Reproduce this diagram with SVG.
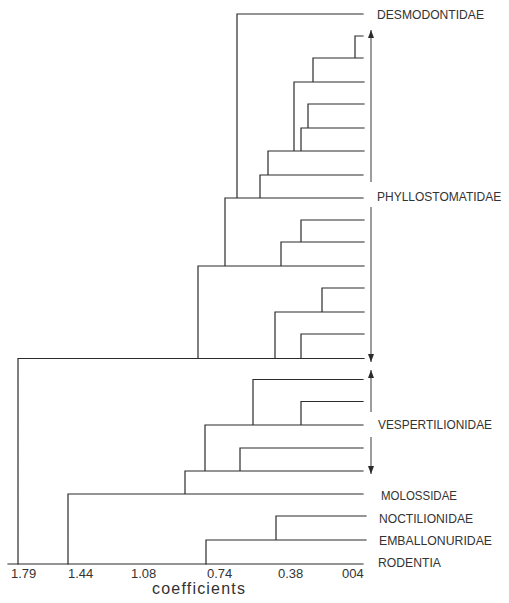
<svg xmlns="http://www.w3.org/2000/svg" width="509" height="603" viewBox="0 0 509 603">
<style>
.ln{fill:none;stroke:#2b2b2b;stroke-width:1.2;stroke-linecap:square}
.ar{fill:none;stroke:#3a3a3a;stroke-width:1}
.lbl{font-family:"Liberation Sans",Arial,sans-serif;font-size:13px;fill:#333}
.ax{font-family:"Liberation Sans",Arial,sans-serif;font-size:13px;fill:#333}
.ttl{font-family:"Liberation Sans",Arial,sans-serif;font-size:16px;fill:#333;letter-spacing:1.2px}
</style>
<defs>
<marker id="ah" viewBox="0 0 8 6" refX="8" refY="3" markerWidth="8" markerHeight="6" markerUnits="userSpaceOnUse" orient="auto">
<path d="M0,0 L8,3 L0,6 Z" fill="#2b2b2b"/>
</marker>
</defs>
<rect width="509" height="603" fill="#ffffff"/>
<g id="connectors">
<path class="ln" d="M237,14H363M237,14V198
M355,36H363M355,36V58
M313,58H363M313,58V82
M294,82H364M294,82V151
M308,104H364M308,104V128
M301,128H364M301,128V151
M268,151H364M268,151V175
M260,175H363M260,175V198
M225,198H363M225,198V266
M301,220H364M301,220V242
M281,242H364M281,242V266
M198,266H364M198,266V358.5
M322,288H364M322,288V312
M275,312H364M275,312V358.5
M301,334H364M301,334V358.5
M18,358.5H364M18,358.5V564
M253,379.5H363M253,379.5V425
M301,401.5H363M301,401.5V425
M205,425H363M205,425V471
M240,448H363M240,448V471
M185,471H363M185,471V494
M68,494H363M68,494V564
M276,516H366M276,516V540
M206,540H366M206,540V564"/>
</g>
<g id="axis">
<path class="ln" d="M8,564H363"/>
<text class="ax" x="11" y="578">1.79</text>
<text class="ax" x="68" y="578">1.44</text>
<text class="ax" x="131" y="578">1.08</text>
<text class="ax" x="207" y="578">0.74</text>
<text class="ax" x="278" y="578">0.38</text>
<text class="ax" x="342" y="578">004</text>
<text class="ttl" x="152" y="594">coefficients</text>
</g>
<g id="arrows">
<path class="ar" d="M371,182V30" marker-end="url(#ah)"/>
<path class="ar" d="M371,207V362" marker-end="url(#ah)"/>
<path class="ar" d="M371,412V370" marker-end="url(#ah)"/>
<path class="ar" d="M371,437V474" marker-end="url(#ah)"/>
</g>
<g id="desmodontidae"><text class="lbl" x="377" y="19" textLength="107" lengthAdjust="spacingAndGlyphs">DESMODONTIDAE</text></g>
<g id="phyllostomatidae"><text class="lbl" x="377" y="201" style="font-size:12px">PHYLLOSTOMATIDAE</text></g>
<g id="vespertilionidae"><text class="lbl" x="378" y="429" textLength="114" lengthAdjust="spacingAndGlyphs">VESPERTILIONIDAE</text></g>
<g id="molossidae"><text class="lbl" x="381" y="500" textLength="76" lengthAdjust="spacingAndGlyphs">MOLOSSIDAE</text></g>
<g id="noctilionidae"><text class="lbl" x="379" y="523" textLength="94" lengthAdjust="spacingAndGlyphs">NOCTILIONIDAE</text></g>
<g id="emballonuridae"><text class="lbl" x="379" y="545" textLength="113" lengthAdjust="spacingAndGlyphs">EMBALLONURIDAE</text></g>
<g id="rodentia"><text class="lbl" x="378" y="567" textLength="63" lengthAdjust="spacingAndGlyphs">RODENTIA</text></g>
</svg>
